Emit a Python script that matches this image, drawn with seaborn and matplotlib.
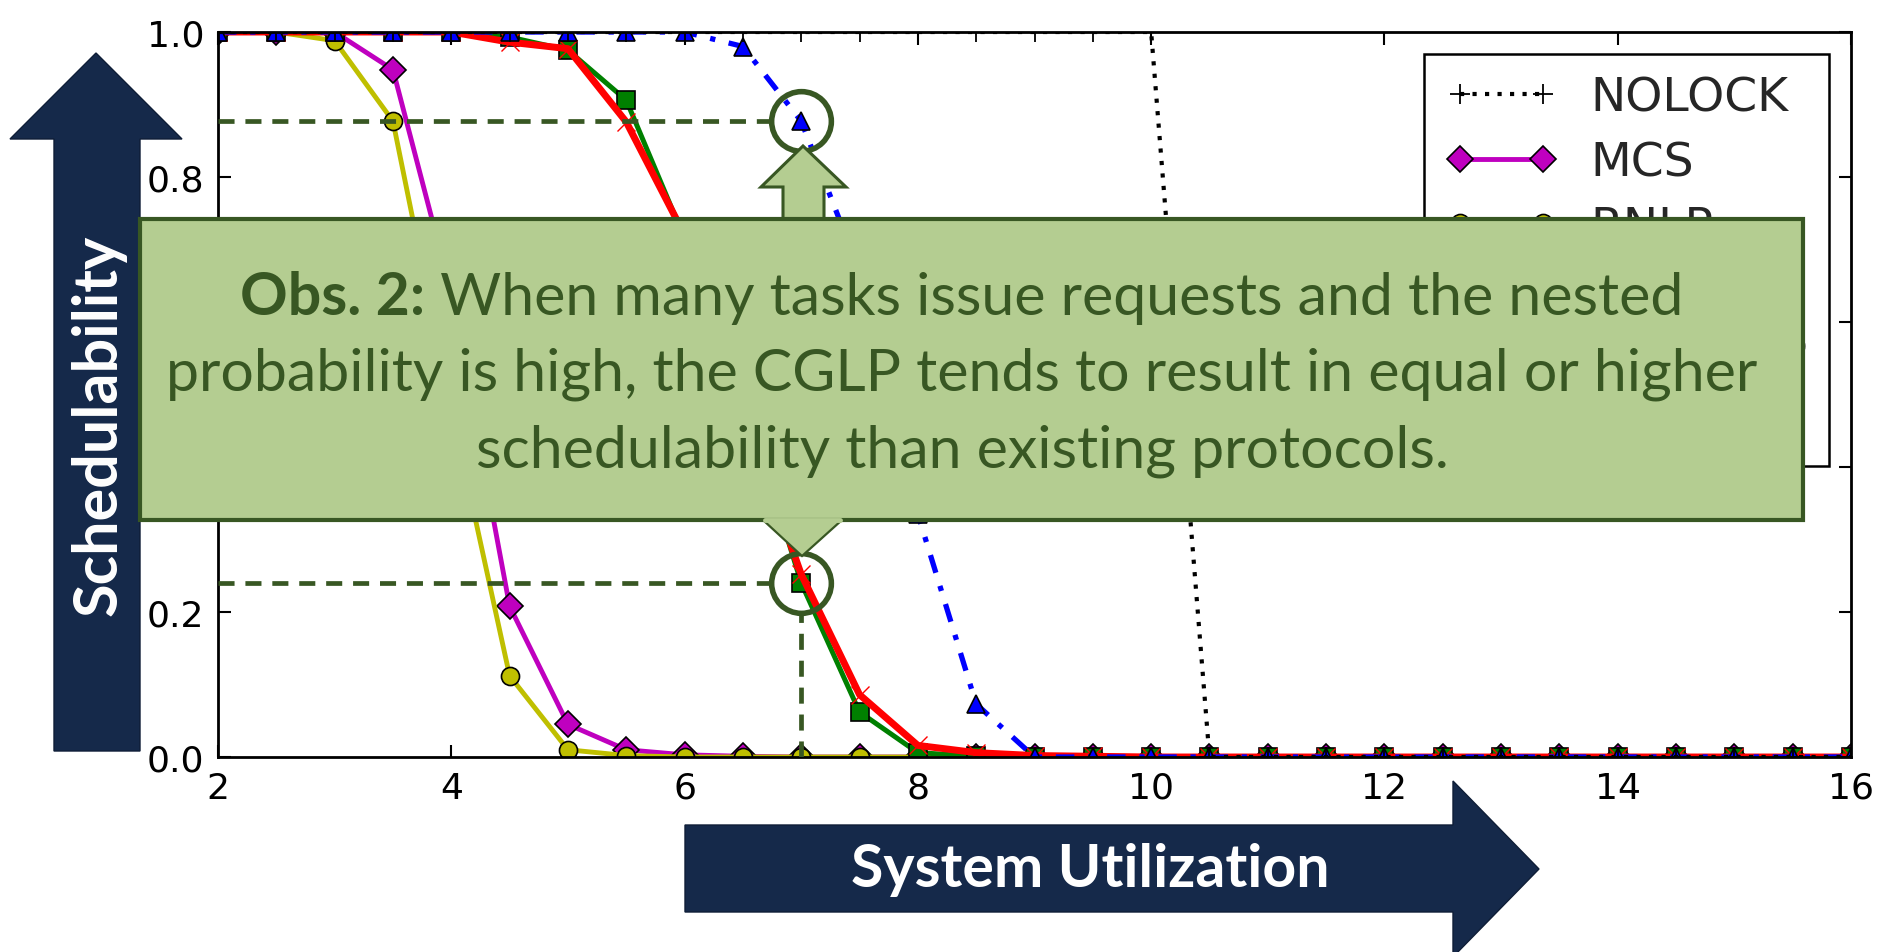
import matplotlib
matplotlib.use('Agg')
import matplotlib.pyplot as plt
import seaborn as sns
import pandas as pd
from matplotlib.patches import Polygon, Rectangle

# schedulability vs system utilization
utilization = [2.0, 2.5, 3.0, 3.5, 4.0, 4.5, 5.0, 5.5, 6.0, 6.5, 7.0, 7.5, 8.0, 8.5, 9.0,
               9.5, 10.0, 10.5, 11.0, 11.5, 12.0, 12.5, 13.0, 13.5, 14.0, 14.5, 15.0, 15.5, 16.0]

nolock = [1.0, 1.0, 1.0, 1.0, 1.0, 1.0, 1.0, 1.0, 1.0, 1.0, 1.0, 1.0, 1.0, 1.0, 1.0,
          1.0, 1.0, 0.0, 0.0, 0.0, 0.0, 0.0, 0.0, 0.0, 0.0, 0.0, 0.0, 0.0, 0.0]
mcs = [1.0, 1.0, 1.0, 0.948, 0.64, 0.208, 0.045, 0.010, 0.003, 0.001, 0.0, 0.0, 0.0, 0.0, 0.0,
       0.0, 0.0, 0.0, 0.0, 0.0, 0.0, 0.0, 0.0, 0.0, 0.0, 0.0, 0.0, 0.0, 0.0]
rnlp = [1.0, 1.0, 0.988, 0.877, 0.48, 0.112, 0.010, 0.002, 0.0, 0.0, 0.0, 0.0, 0.0, 0.0, 0.0,
        0.0, 0.0, 0.0, 0.0, 0.0, 0.0, 0.0, 0.0, 0.0, 0.0, 0.0, 0.0, 0.0, 0.0]
rw_rnlp = [1.0, 1.0, 1.0, 1.0, 1.0, 0.993, 0.975, 0.906, 0.715, 0.50, 0.24, 0.062, 0.006, 0.001, 0.0,
           0.0, 0.0, 0.0, 0.0, 0.0, 0.0, 0.0, 0.0, 0.0, 0.0, 0.0, 0.0, 0.0, 0.0]
rw_cglp = [1.0, 1.0, 1.0, 1.0, 1.0, 0.986, 0.977, 0.876, 0.72, 0.48, 0.252, 0.086, 0.016, 0.006, 0.002,
           0.001, 0.0, 0.0, 0.0, 0.0, 0.0, 0.0, 0.0, 0.0, 0.0, 0.0, 0.0, 0.0, 0.0]
cglp = [1.0, 1.0, 1.0, 1.0, 1.0, 1.0, 1.0, 1.0, 1.0, 0.98, 0.877, 0.67, 0.335, 0.073, 0.0,
        0.0, 0.0, 0.0, 0.0, 0.0, 0.0, 0.0, 0.0, 0.0, 0.0, 0.0, 0.0, 0.0, 0.0]

series = {'NOLOCK': nolock, 'MCS': mcs, 'RNLP': rnlp,
          'RW-RNLP': rw_rnlp, 'RW-CGLP': rw_cglp, 'CGLP': cglp}
legend_order = ['NOLOCK', 'MCS', 'RNLP', 'RW-RNLP', 'RW-CGLP', 'CGLP']
draw_order = ['MCS', 'RNLP', 'RW-RNLP', 'RW-CGLP', 'CGLP', 'NOLOCK']

# highlighted points
hl_x = 7.0
hl_top = 0.877
hl_bottom = 0.24

obs_bold = 'Obs. 2:'
obs_lines = [' When many tasks issue requests and the nested',
             'probability is high, the CGLP tends to result in equal or higher',
             'schedulability than existing protocols.']

styles = {
    'NOLOCK': dict(color='k', marker='+', linestyle=(0, (1.0, 2.0)), linewidth=3.0, mec='k', mew=1.3, ms=14),
    'MCS': dict(color=(0.75, 0, 0.75), marker='D', linestyle='-', linewidth=3.5, mec='k', mew=1.2, ms=13),
    'RNLP': dict(color=(0.75, 0.75, 0), marker='o', linestyle='-', linewidth=3.5, mec='k', mew=1.2, ms=13),
    'RW-RNLP': dict(color=(0, 0.5, 0), marker='s', linestyle='-', linewidth=3.6, mec='k', mew=1.2, ms=13),
    'RW-CGLP': dict(color='r', marker='x', linestyle='-', linewidth=5.0, mec='r', mew=1.0, ms=13),
    'CGLP': dict(color='b', marker='^', linestyle=(0, (3.5, 2.6, 1, 2.6)), linewidth=3.8, mec='k', mew=1.2, ms=13),
}

sns.set_style('ticks')
plt.rcParams['font.family'] = ['DejaVu Sans']

W, H = 1878, 953
fig = plt.figure(figsize=(W / 100, H / 100), dpi=100)
ax = fig.add_axes([218 / W, 1 - 758 / H, (1851 - 218) / W, (758 - 33) / H])

handles = {}
for name in draw_order:
    df = pd.DataFrame({'utilization': utilization, 'schedulability': series[name]})
    st = styles[name]
    sns.lineplot(data=df, x='utilization', y='schedulability', ax=ax, label=name,
                 color=st['color'], marker=st['marker'], linestyle=st['linestyle'],
                 linewidth=st['linewidth'], markeredgecolor=st['mec'],
                 markeredgewidth=st['mew'], markersize=st['ms'], errorbar=None)
    handles[name] = ax.lines[-1]

ax.set_xlim(2, 16)
ax.set_ylim(0, 1)
ax.set_xticks([2, 4, 6, 8, 10, 12, 14, 16])
ax.set_yticks([0.0, 0.2, 0.4, 0.6, 0.8, 1.0])
ax.set_yticklabels(['0.0', '0.2', '0.4', '0.6', '0.8', '1.0'])
ax.set_xlabel('')
ax.set_ylabel('')
ax.tick_params(direction='in', top=True, right=True, length=9, width=1.5,
               labelsize=26, pad=10, colors='k')
for sp in ax.spines.values():
    sp.set_linewidth(2.0)
    sp.set_color('k')

leg = ax.legend([handles[n] for n in legend_order], legend_order,
                loc='upper right', bbox_to_anchor=(1 - 22 / 1633, 1 - 22 / 725),
                borderaxespad=0, fontsize=34, numpoints=2, handlelength=2.37,
                handletextpad=0.7, labelspacing=0.42, borderpad=0.45,
                fancybox=False, framealpha=1, edgecolor='k')
leg.get_frame().set_linewidth(1.8)

# highlight markers and guide lines
dark_green = '#385723'
r_x = 31 / 116.6
r_y = 31 / 725
ax.plot([2, hl_x - r_x], [hl_top, hl_top], color=dark_green, lw=3.4,
        dashes=(3.4, 2.3), zorder=6, clip_on=False)
ax.plot([2, hl_x - r_x], [hl_bottom, hl_bottom], color=dark_green, lw=3.4,
        dashes=(3.4, 2.3), zorder=6, clip_on=False)
ax.plot([hl_x, hl_x], [0, hl_bottom - r_y], color=dark_green, lw=3.4,
        dashes=(3.4, 2.3), zorder=6)
ax.plot([hl_x, hl_x], [hl_top, hl_bottom], linestyle='none', marker='o', ms=43,
        mfc='none', mec=dark_green, mew=4.0, zorder=7, clip_on=False)

# overlay in pixel coordinates
ov = fig.add_axes([0, 0, 1, 1], zorder=10)
ov.set_xlim(0, W)
ov.set_ylim(H, 0)
ov.axis('off')

navy = '#15294a'
box_fill = '#b4cd91'
ov.add_patch(Polygon([(54, 752), (54, 140), (10, 140), (96, 54), (182, 140), (140, 140), (140, 752)],
                     closed=True, fc=navy, ec='#0e1d36', lw=1))
ov.add_patch(Polygon([(685, 826), (1453, 826), (1453, 782), (1539, 870), (1453, 958), (1453, 913), (685, 913)],
                     closed=True, fc=navy, ec='#0e1d36', lw=1))
ov.text(99, 425, 'Schedulability', rotation=90, ha='center', va='center',
        color='white', fontsize=44, fontweight='bold', family=['Lato', 'DejaVu Sans'])
ov.text(1090, 870, 'System Utilization', ha='center', va='center',
        color='white', fontsize=42.5, fontweight='bold', family=['Lato', 'DejaVu Sans'])

ov.add_patch(Polygon([(783, 221), (783, 188), (761, 188), (803, 147), (846, 188), (824, 188), (824, 221)],
                     closed=True, fc=box_fill, ec=dark_green, lw=2.2))
ov.add_patch(Rectangle((140, 220), 1803 - 140, 521 - 220, fc=box_fill, ec=dark_green, lw=3.0))
ov.add_patch(Polygon([(763, 521), (842, 521), (802, 557)], closed=True,
                     fc=box_fill, ec=dark_green, lw=1.6))
ov.plot([765, 840], [521, 521], color=box_fill, lw=3.5)

renderer = fig.canvas.get_renderer()
txt_kw = dict(color=dark_green, fontsize=42.5, va='baseline', family=['Lato', 'DejaVu Sans'])
baselines = [315, 391, 468]
cx = 962
tb = ov.text(0, baselines[0], obs_bold, fontweight='bold', **txt_kw)
tr = ov.text(0, baselines[0], obs_lines[0], **txt_kw)
wb = tb.get_window_extent(renderer).width
wr = tr.get_window_extent(renderer).width
tb.set_x(cx - (wb + wr) / 2)
tr.set_x(cx - (wb + wr) / 2 + wb)
for line, yb in zip(obs_lines[1:], baselines[1:]):
    ov.text(cx, yb, line, ha='center', **txt_kw)

fig.savefig('out.png', dpi=100)
